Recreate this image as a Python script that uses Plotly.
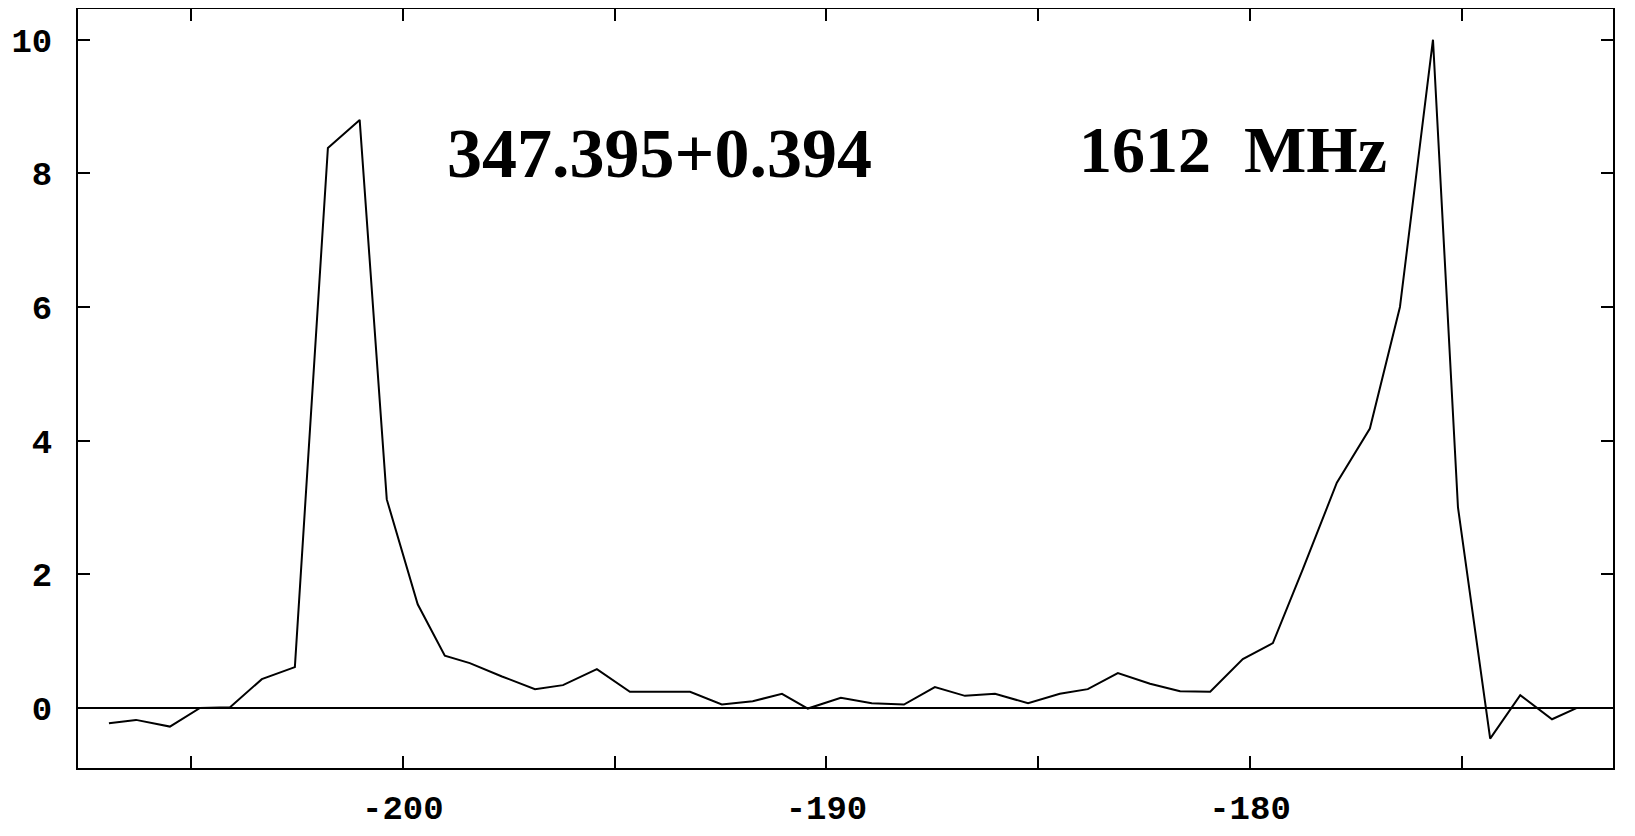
import plotly.graph_objects as go

# Velocity (km/s) of each channel
velocity = [-206.94, -206.30, -205.50, -204.79, -204.08, -203.33, -202.55, -201.77,
            -201.02, -200.38, -199.65, -199.01, -198.42, -197.66, -196.88, -196.22,
            -195.42, -194.64, -193.93, -193.22, -192.47, -191.74, -191.05, -190.44,
            -189.66, -188.93, -188.17, -187.44, -186.73, -186.02, -185.24, -184.49,
            -183.83, -183.12, -182.36, -181.65, -180.94, -180.17, -179.46, -178.75,
            -177.95, -177.17, -176.46, -175.68, -175.09, -174.33, -173.62, -172.87,
            -172.28]
# Flux density of each channel
flux = [-0.23, -0.18, -0.28, 0.00, 0.01, 0.43, 0.61, 8.38,
        8.80, 3.12, 1.55, 0.78, 0.67, 0.47, 0.28, 0.34,
        0.58, 0.24, 0.24, 0.24, 0.05, 0.10, 0.21, -0.01,
        0.15, 0.07, 0.05, 0.31, 0.18, 0.21, 0.07, 0.21,
        0.28, 0.52, 0.36, 0.25, 0.24, 0.73, 0.97, 2.08,
        3.37, 4.18, 6.00, 10.00, 3.00, -0.46, 0.19, -0.17,
        0.00]

x_tick_vals = [-205, -200, -195, -190, -185, -180, -175]
x_tick_text = ["", "-200", "", "-190", "", "-180", ""]
y_tick_vals = [0, 2, 4, 6, 8, 10]
y_tick_text = ["0", "2", "4", "6", "8", "10"]

source_label = "347.395+0.394"
freq_label = "1612  MHz"

fig = go.Figure()
fig.add_trace(go.Scatter(
    x=velocity, y=flux, mode="lines",
    line=dict(color="black", width=2),
    showlegend=False, hoverinfo="skip",
))

tick_font = dict(family="Liberation Mono", size=34, color="black", weight="bold")

fig.add_annotation(x=-193.93, y=8.29, xref="x", yref="y", text=source_label,
                   showarrow=False, xanchor="center", yanchor="middle",
                   font=dict(family="Liberation Serif", size=70, color="black", weight="bold"))
fig.add_annotation(x=-180.40, y=8.35, xref="x", yref="y", text=freq_label,
                   showarrow=False, xanchor="center", yanchor="middle",
                   font=dict(family="Liberation Serif", size=66, color="black", weight="bold"))

fig.update_xaxes(
    range=[-207.67, -171.43], showgrid=False, zeroline=False, automargin=False,
    showline=True, linecolor="black", linewidth=2, mirror="ticks",
    ticks="inside", ticklen=12, tickwidth=2, tickcolor="black",
    tickvals=x_tick_vals, ticktext=x_tick_text, tickfont=tick_font,
    ticklabelstandoff=8,
)
fig.update_yaxes(
    range=[-0.9, 10.46], showgrid=False, automargin=False,
    zeroline=True, zerolinecolor="black", zerolinewidth=1.5,
    showline=True, linecolor="black", linewidth=2, mirror="ticks",
    ticks="inside", ticklen=12, tickwidth=2, tickcolor="black",
    tickvals=y_tick_vals, ticktext=y_tick_text, tickfont=tick_font,
    ticklabelstandoff=17,
)
# the page body adds an 8px offset, so the figure is 16px smaller than the window
fig.update_layout(
    width=1619, height=820,
    margin=dict(l=70, r=14, t=1, b=60),
    paper_bgcolor="white", plot_bgcolor="white",
)
fig.write_html("out.html")
